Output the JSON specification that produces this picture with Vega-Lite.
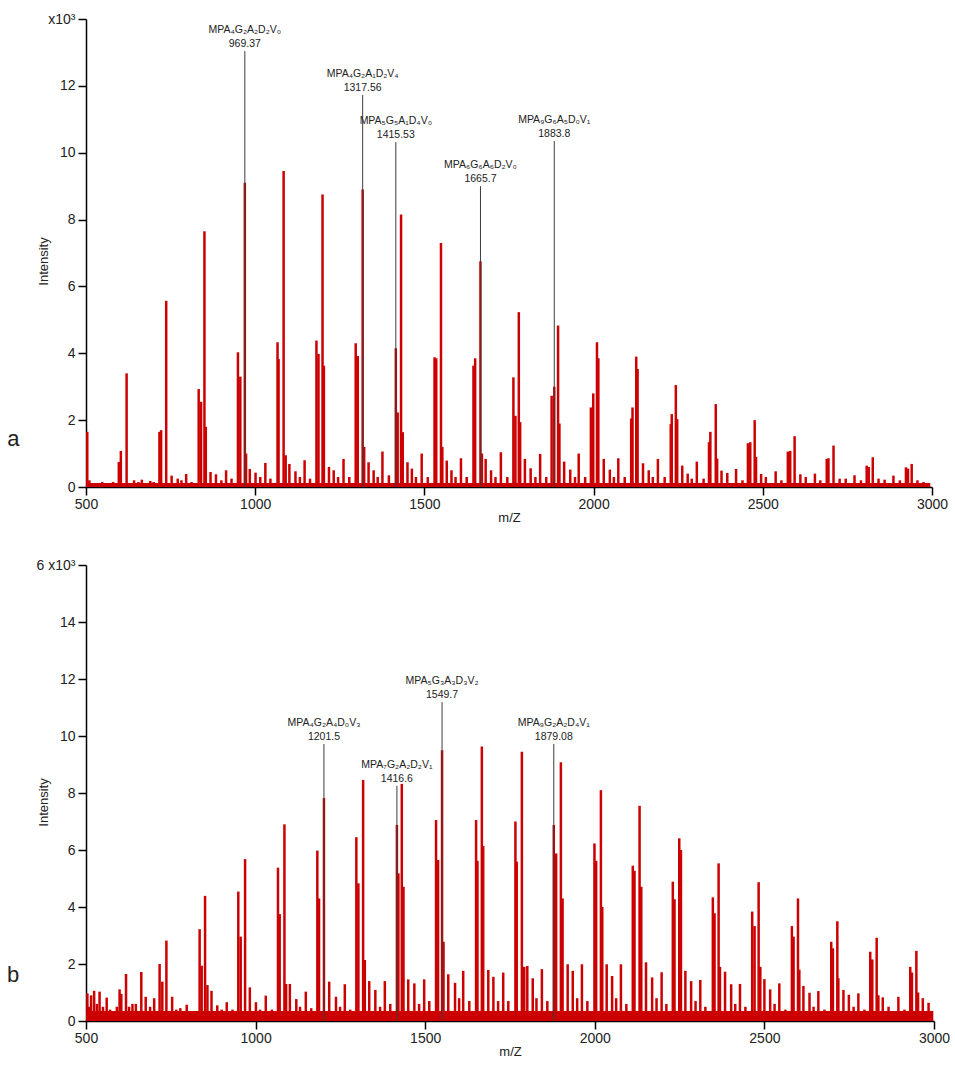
{
  "$schema": "https://vega.github.io/schema/vega-lite/v6.json",
  "background": "white",
  "padding": {"left": 6, "top": 12, "right": 5, "bottom": 5},
  "spacing": 34,
  "config": {
    "view": {"stroke": null},
    "font": "Liberation Sans",
    "axis": {
      "grid": false,
      "domainColor": "#000",
      "domainWidth": 1.5,
      "tickColor": "#000",
      "tickWidth": 1.5,
      "tickSize": 8,
      "labelFont": "Liberation Sans",
      "labelFontSize": 14,
      "labelColor": "#222",
      "titleFont": "Liberation Sans",
      "titleFontSize": 13,
      "titleFontWeight": "normal",
      "titleColor": "#222"
    }
  },
  "datasets": {
    "peaksA": [
      {"mz":503.8,"i":1.65},{"mz":510,"i":0.2},{"mz":530,"i":0.12},{"mz":548,"i":0.15},{"mz":565,"i":0.12},{"mz":580,"i":0.15},{"mz":597,"i":0.75},{"mz":603,"i":1.08},{"mz":620,"i":3.4},{"mz":642,"i":0.2},{"mz":655,"i":0.15},{"mz":665,"i":0.22},{"mz":690,"i":0.18},{"mz":700,"i":0.15},{"mz":717,"i":1.65},{"mz":722,"i":1.7},{"mz":737,"i":5.57},{"mz":753,"i":0.34},{"mz":771,"i":0.25},{"mz":782,"i":0.2},{"mz":796,"i":0.39},{"mz":812,"i":0.15},{"mz":833,"i":2.93},{"mz":840,"i":2.55},{"mz":850,"i":7.65},{"mz":854,"i":1.8},{"mz":868,"i":0.45},{"mz":884,"i":0.38},{"mz":900,"i":0.2},{"mz":914,"i":0.5},{"mz":930,"i":0.25},{"mz":949,"i":4.03},{"mz":956,"i":3.3},{"mz":969.37,"i":9.1},{"mz":973,"i":1.0},{"mz":984,"i":0.54},{"mz":1001,"i":0.43},{"mz":1015,"i":0.3},{"mz":1030,"i":0.72},{"mz":1045,"i":0.25},{"mz":1066,"i":4.33},{"mz":1069,"i":3.83},{"mz":1084,"i":9.45},{"mz":1090,"i":0.95},{"mz":1101,"i":0.69},{"mz":1119,"i":0.47},{"mz":1132,"i":0.3},{"mz":1146,"i":0.8},{"mz":1162,"i":0.25},{"mz":1181,"i":4.38},{"mz":1187,"i":3.98},{"mz":1199,"i":8.75},{"mz":1203,"i":3.63},{"mz":1218,"i":0.6},{"mz":1232,"i":0.5},{"mz":1245,"i":0.3},{"mz":1261,"i":0.84},{"mz":1278,"i":0.3},{"mz":1297,"i":4.3},{"mz":1303,"i":3.92},{"mz":1317.56,"i":8.9},{"mz":1322,"i":1.2},{"mz":1335,"i":0.74},{"mz":1350,"i":0.5},{"mz":1362,"i":0.3},{"mz":1376,"i":1.06},{"mz":1395,"i":0.35},{"mz":1415.53,"i":4.15},{"mz":1421,"i":2.23},{"mz":1431,"i":8.15},{"mz":1436,"i":1.64},{"mz":1450,"i":0.74},{"mz":1463,"i":0.55},{"mz":1475,"i":0.3},{"mz":1492,"i":1.0},{"mz":1510,"i":0.3},{"mz":1530,"i":3.88},{"mz":1535,"i":3.85},{"mz":1549,"i":7.3},{"mz":1553,"i":1.2},{"mz":1566,"i":0.79},{"mz":1580,"i":0.5},{"mz":1592,"i":0.3},{"mz":1608,"i":0.86},{"mz":1625,"i":0.3},{"mz":1645,"i":3.63},{"mz":1650,"i":3.85},{"mz":1665.7,"i":6.75},{"mz":1670,"i":1.0},{"mz":1681,"i":0.84},{"mz":1697,"i":0.5},{"mz":1710,"i":0.3},{"mz":1726,"i":1.04},{"mz":1745,"i":0.3},{"mz":1763,"i":3.28},{"mz":1769,"i":2.13},{"mz":1779,"i":5.23},{"mz":1783,"i":1.94},{"mz":1797,"i":0.84},{"mz":1814,"i":0.56},{"mz":1828,"i":0.3},{"mz":1842,"i":0.99},{"mz":1860,"i":0.3},{"mz":1876,"i":2.73},{"mz":1883.8,"i":3.0},{"mz":1895,"i":4.83},{"mz":1899,"i":1.9},{"mz":1913,"i":0.76},{"mz":1931,"i":0.52},{"mz":1945,"i":0.3},{"mz":1956,"i":1.0},{"mz":1975,"i":0.3},{"mz":1992,"i":2.38},{"mz":1999,"i":2.8},{"mz":2010,"i":4.33},{"mz":2014,"i":3.85},{"mz":2030,"i":0.84},{"mz":2048,"i":0.52},{"mz":2060,"i":0.3},{"mz":2073,"i":0.86},{"mz":2092,"i":0.3},{"mz":2111,"i":2.05},{"mz":2115,"i":2.38},{"mz":2126,"i":3.9},{"mz":2130,"i":3.53},{"mz":2146,"i":0.71},{"mz":2163,"i":0.5},{"mz":2175,"i":0.3},{"mz":2190,"i":0.84},{"mz":2210,"i":0.3},{"mz":2228,"i":1.88},{"mz":2231,"i":2.18},{"mz":2243,"i":3.05},{"mz":2247,"i":2.03},{"mz":2262,"i":0.64},{"mz":2278,"i":0.4},{"mz":2290,"i":0.25},{"mz":2305,"i":0.76},{"mz":2325,"i":0.25},{"mz":2341,"i":1.34},{"mz":2345,"i":1.65},{"mz":2361,"i":2.48},{"mz":2365,"i":0.85},{"mz":2378,"i":0.49},{"mz":2395,"i":0.42},{"mz":2421,"i":0.54},{"mz":2440,"i":0.2},{"mz":2456,"i":1.31},{"mz":2463,"i":1.34},{"mz":2476,"i":2.0},{"mz":2480,"i":0.9},{"mz":2495,"i":0.39},{"mz":2509,"i":0.3},{"mz":2538,"i":0.47},{"mz":2555,"i":0.2},{"mz":2574,"i":1.06},{"mz":2581,"i":1.08},{"mz":2594,"i":1.52},{"mz":2611,"i":0.38},{"mz":2627,"i":0.3},{"mz":2654,"i":0.4},{"mz":2670,"i":0.2},{"mz":2689,"i":0.84},{"mz":2694,"i":0.86},{"mz":2709,"i":1.24},{"mz":2727,"i":0.25},{"mz":2745,"i":0.25},{"mz":2771,"i":0.35},{"mz":2790,"i":0.2},{"mz":2807,"i":0.64},{"mz":2813,"i":0.6},{"mz":2825,"i":0.89},{"mz":2842,"i":0.25},{"mz":2860,"i":0.22},{"mz":2886,"i":0.34},{"mz":2905,"i":0.2},{"mz":2923,"i":0.59},{"mz":2929,"i":0.55},{"mz":2940,"i":0.69},{"mz":2957,"i":0.2},{"mz":2975,"i":0.15},{"mz":2990,"i":0.1}
    ],
    "peaksB": [
      {"mz":504,"i":0.97},{"mz":509,"i":0.5},{"mz":515,"i":0.9},{"mz":524,"i":1.06},{"mz":532,"i":0.6},{"mz":540,"i":1.03},{"mz":550,"i":0.5},{"mz":561,"i":0.82},{"mz":571,"i":0.4},{"mz":581,"i":0.3},{"mz":591,"i":0.5},{"mz":599,"i":1.11},{"mz":604,"i":0.95},{"mz":618,"i":1.65},{"mz":627,"i":0.5},{"mz":637,"i":0.6},{"mz":647,"i":0.6},{"mz":663,"i":1.72},{"mz":676,"i":0.85},{"mz":689,"i":0.5},{"mz":701,"i":0.8},{"mz":717,"i":2.0},{"mz":725,"i":1.38},{"mz":737,"i":2.82},{"mz":754,"i":0.85},{"mz":766,"i":0.4},{"mz":778,"i":0.45},{"mz":797,"i":0.57},{"mz":814,"i":0.3},{"mz":835,"i":3.22},{"mz":841,"i":1.94},{"mz":851,"i":4.39},{"mz":858,"i":1.26},{"mz":870,"i":1.06},{"mz":887,"i":0.55},{"mz":900,"i":0.4},{"mz":915,"i":0.66},{"mz":932,"i":0.4},{"mz":949,"i":4.54},{"mz":956,"i":2.96},{"mz":969,"i":5.68},{"mz":983,"i":1.18},{"mz":1001,"i":0.66},{"mz":1013,"i":0.4},{"mz":1030,"i":0.89},{"mz":1048,"i":0.4},{"mz":1066,"i":5.38},{"mz":1071,"i":3.75},{"mz":1085,"i":6.9},{"mz":1090,"i":1.3},{"mz":1101,"i":1.3},{"mz":1120,"i":0.77},{"mz":1131,"i":0.5},{"mz":1148,"i":1.03},{"mz":1164,"i":0.45},{"mz":1182,"i":5.98},{"mz":1187,"i":4.3},{"mz":1201.5,"i":7.82},{"mz":1217,"i":1.38},{"mz":1237,"i":0.85},{"mz":1249,"i":0.5},{"mz":1263,"i":1.29},{"mz":1279,"i":0.4},{"mz":1297,"i":6.45},{"mz":1303,"i":4.83},{"mz":1317,"i":8.46},{"mz":1322,"i":2.14},{"mz":1335,"i":1.4},{"mz":1353,"i":1.09},{"mz":1367,"i":0.5},{"mz":1381,"i":1.4},{"mz":1397,"i":0.6},{"mz":1416.6,"i":6.88},{"mz":1421,"i":5.18},{"mz":1431,"i":8.32},{"mz":1436,"i":4.71},{"mz":1450,"i":1.46},{"mz":1468,"i":1.32},{"mz":1482,"i":0.6},{"mz":1497,"i":1.46},{"mz":1512,"i":0.7},{"mz":1532,"i":7.05},{"mz":1538,"i":5.65},{"mz":1549.7,"i":9.5},{"mz":1554,"i":2.78},{"mz":1568,"i":1.64},{"mz":1588,"i":1.34},{"mz":1600,"i":0.8},{"mz":1612,"i":1.76},{"mz":1630,"i":0.7},{"mz":1650,"i":7.05},{"mz":1654,"i":5.62},{"mz":1667,"i":9.63},{"mz":1671,"i":6.14},{"mz":1686,"i":1.79},{"mz":1701,"i":1.55},{"mz":1715,"i":0.7},{"mz":1730,"i":1.7},{"mz":1745,"i":0.7},{"mz":1766,"i":7.0},{"mz":1770,"i":5.59},{"mz":1785,"i":9.45},{"mz":1792,"i":1.9},{"mz":1801,"i":1.93},{"mz":1817,"i":1.5},{"mz":1828,"i":0.8},{"mz":1844,"i":1.82},{"mz":1860,"i":0.7},{"mz":1879.08,"i":6.88},{"mz":1886,"i":5.88},{"mz":1900,"i":9.08},{"mz":1905,"i":4.3},{"mz":1920,"i":1.99},{"mz":1935,"i":1.76},{"mz":1948,"i":0.8},{"mz":1962,"i":1.99},{"mz":1978,"i":0.7},{"mz":1999,"i":6.23},{"mz":2004,"i":5.62},{"mz":2018,"i":8.1},{"mz":2022,"i":4.0},{"mz":2035,"i":1.99},{"mz":2051,"i":1.58},{"mz":2063,"i":0.8},{"mz":2077,"i":1.99},{"mz":2093,"i":0.6},{"mz":2112,"i":5.45},{"mz":2117,"i":5.27},{"mz":2132,"i":7.55},{"mz":2137,"i":4.71},{"mz":2151,"i":2.06},{"mz":2169,"i":1.53},{"mz":2182,"i":0.8},{"mz":2197,"i":1.71},{"mz":2211,"i":0.6},{"mz":2230,"i":4.89},{"mz":2235,"i":4.27},{"mz":2249,"i":6.41},{"mz":2254,"i":6.0},{"mz":2267,"i":1.76},{"mz":2284,"i":1.4},{"mz":2297,"i":0.7},{"mz":2311,"i":1.44},{"mz":2326,"i":0.5},{"mz":2348,"i":4.34},{"mz":2353,"i":3.78},{"mz":2365,"i":5.53},{"mz":2369,"i":1.9},{"mz":2384,"i":1.73},{"mz":2402,"i":1.29},{"mz":2414,"i":0.6},{"mz":2428,"i":1.3},{"mz":2444,"i":0.5},{"mz":2464,"i":3.84},{"mz":2471,"i":3.33},{"mz":2483,"i":4.87},{"mz":2488,"i":1.9},{"mz":2500,"i":1.47},{"mz":2517,"i":1.11},{"mz":2530,"i":0.6},{"mz":2544,"i":1.32},{"mz":2562,"i":0.4},{"mz":2581,"i":3.33},{"mz":2586,"i":2.96},{"mz":2599,"i":4.3},{"mz":2603,"i":1.8},{"mz":2615,"i":1.23},{"mz":2633,"i":0.99},{"mz":2645,"i":0.5},{"mz":2659,"i":1.05},{"mz":2677,"i":0.4},{"mz":2697,"i":2.78},{"mz":2702,"i":2.55},{"mz":2715,"i":3.5},{"mz":2718,"i":1.5},{"mz":2733,"i":1.09},{"mz":2749,"i":0.92},{"mz":2763,"i":0.5},{"mz":2777,"i":0.97},{"mz":2795,"i":0.4},{"mz":2812,"i":2.43},{"mz":2818,"i":2.16},{"mz":2831,"i":2.92},{"mz":2836,"i":0.9},{"mz":2849,"i":0.83},{"mz":2866,"i":0.5},{"mz":2895,"i":0.85},{"mz":2913,"i":0.4},{"mz":2930,"i":1.9},{"mz":2935,"i":1.7},{"mz":2948,"i":2.46},{"mz":2953,"i":1.0},{"mz":2967,"i":0.8},{"mz":2984,"i":0.64},{"mz":2993,"i":0.3}
    ],
    "baseA": [{"mz":500,"end":2995,"i":0.12}],
    "baseB": [{"mz":500,"end":2998,"i":0.35}],
    "annA": [
      {"mz":969.37,"i":13.04,"formula":"MPA₄G₂A₂D₂V₀","lbl":"969.37"},
      {"mz":1317.56,"i":11.73,"formula":"MPA₄G₂A₁D₂V₄","lbl":"1317.56"},
      {"mz":1415.53,"i":10.32,"formula":"MPA₅G₅A₁D₄V₀","lbl":"1415.53"},
      {"mz":1665.7,"i":9.0,"formula":"MPA₆G₆A₆D₂V₀","lbl":"1665.7"},
      {"mz":1883.8,"i":10.35,"formula":"MPA₉G₆A₅D₀V₁","lbl":"1883.8"}
    ],
    "annB": [
      {"mz":1201.5,"i":9.72,"formula":"MPA₄G₂A₄D₀V₃","lbl":"1201.5"},
      {"mz":1416.6,"i":8.25,"formula":"MPA₇G₂A₂D₂V₁","lbl":"1416.6"},
      {"mz":1549.7,"i":11.19,"formula":"MPA₅G₃A₃D₃V₂","lbl":"1549.7"},
      {"mz":1879.08,"i":9.72,"formula":"MPA₉G₂A₂D₄V₁","lbl":"1879.08"}
    ],
    "tagA": [{"mz":267,"i":1.44,"t":"a"}],
    "tagB": [{"mz":267,"i":1.61,"t":"b"}]
  },
  "vconcat": [
    {
      "width": 846,
      "height": 468,
      "encoding": {
        "x": {"field": "mz", "type": "quantitative",
          "scale": {"domain": [500, 3000], "nice": false, "zero": false},
          "axis": {"title": "m/Z", "values": [500, 1000, 1500, 2000, 2500, 3000], "format": "d", "labelPadding": 2, "titlePadding": 0, "labelFlush": false}},
        "y": {"field": "i", "type": "quantitative",
          "scale": {"domain": [0, 14], "nice": false},
          "axis": {"title": "Intensity", "values": [0, 2, 4, 6, 8, 10, 12, 14], "labelExpr": "datum.value == 14 ? 'x10³' : datum.label", "titleX": -36, "titleY": 242, "labelPadding": 3}}
      },
      "layer": [
        {"data": {"name": "baseA"}, "mark": {"type": "rect", "color": "#cc0000"}, "encoding": {"x2": {"field": "end"}, "y2": {"datum": 0}}},
        {"data": {"name": "peaksA"}, "mark": {"type": "rule", "color": "#cc0000", "strokeWidth": 2.5}, "encoding": {"y2": {"datum": 0}}},
        {"data": {"name": "annA"}, "mark": {"type": "rule", "color": "#3c3c3c", "strokeWidth": 1}, "encoding": {"y2": {"datum": 0}}},
        {"data": {"name": "annA"}, "mark": {"type": "text", "fontSize": 10.5, "color": "#222", "dy": -4, "baseline": "alphabetic", "align": "center"}, "encoding": {"text": {"field": "lbl"}}},
        {"data": {"name": "annA"}, "mark": {"type": "text", "fontSize": 10.5, "color": "#222", "dy": -18, "baseline": "alphabetic", "align": "center"}, "encoding": {"text": {"field": "formula"}}},
        {"data": {"name": "tagA"}, "mark": {"type": "text", "fontSize": 22, "color": "#222", "align": "left", "baseline": "middle"}, "encoding": {"text": {"field": "t"}}}
      ]
    },
    {
      "width": 848,
      "height": 456,
      "encoding": {
        "x": {"field": "mz", "type": "quantitative",
          "scale": {"domain": [500, 3000], "nice": false, "zero": false},
          "axis": {"title": "m/Z", "values": [500, 1000, 1500, 2000, 2500, 3000], "format": "d", "labelPadding": 2, "titlePadding": 0, "labelFlush": false}},
        "y": {"field": "i", "type": "quantitative",
          "scale": {"domain": [0, 16], "nice": false},
          "axis": {"title": "Intensity", "values": [0, 2, 4, 6, 8, 10, 12, 14, 16], "labelExpr": "datum.value == 16 ? '6 x10³' : datum.label", "titleX": -36, "titleY": 237, "labelPadding": 3}}
      },
      "layer": [
        {"data": {"name": "baseB"}, "mark": {"type": "rect", "color": "#cc0000"}, "encoding": {"x2": {"field": "end"}, "y2": {"datum": 0}}},
        {"data": {"name": "peaksB"}, "mark": {"type": "rule", "color": "#cc0000", "strokeWidth": 2.5}, "encoding": {"y2": {"datum": 0}}},
        {"data": {"name": "annB"}, "mark": {"type": "rule", "color": "#3c3c3c", "strokeWidth": 1}, "encoding": {"y2": {"datum": 0}}},
        {"data": {"name": "annB"}, "mark": {"type": "text", "fontSize": 10.5, "color": "#222", "dy": -4, "baseline": "alphabetic", "align": "center"}, "encoding": {"text": {"field": "lbl"}}},
        {"data": {"name": "annB"}, "mark": {"type": "text", "fontSize": 10.5, "color": "#222", "dy": -18, "baseline": "alphabetic", "align": "center"}, "encoding": {"text": {"field": "formula"}}},
        {"data": {"name": "tagB"}, "mark": {"type": "text", "fontSize": 22, "color": "#222", "align": "left", "baseline": "middle"}, "encoding": {"text": {"field": "t"}}}
      ]
    }
  ]
}
